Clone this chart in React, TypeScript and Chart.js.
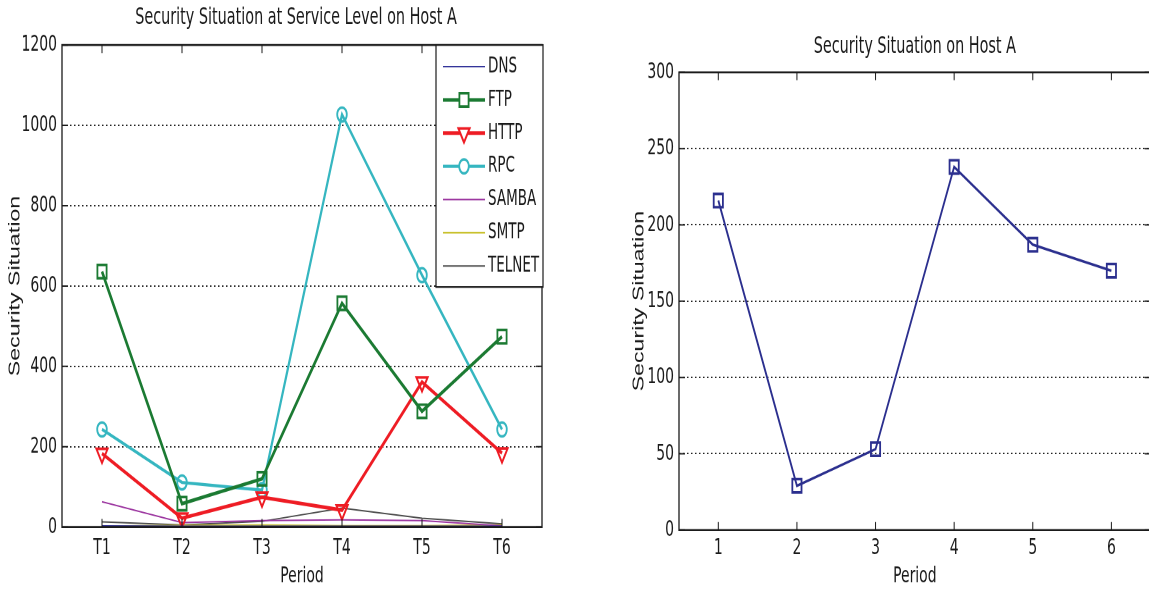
import React, { useEffect, useRef } from 'react';
import { Chart, registerables } from 'chart.js';

Chart.register(...registerables);

// ---------- data ----------
const periodLabels = ['T1', 'T2', 'T3', 'T4', 'T5', 'T6'];
const dnsValues = [3, 2, 2, 2, 2, 2];
const ftpValues = [636, 58, 120, 557, 288, 474];
const httpValues = [183, 22, 74, 42, 361, 184];
const rpcValues = [243, 111, 92, 1027, 627, 243];
const sambaValues = [63, 11, 16, 18, 16, 3];
const smtpValues = [2, 4, 5, 3, 3, 5];
const telnetValues = [13, 5, 14, 47, 22, 8];
const serviceYTicks = [0, 200, 400, 600, 800, 1000, 1200];

const hostLabels = ['1', '2', '3', '4', '5', '6'];
const hostValues = [216, 29, 53, 238, 187, 170];
const hostYTicks = [0, 50, 100, 150, 200, 250, 300];

const leftTitle = 'Security Situation at Service Level on Host A';
const rightTitle = 'Security Situation on Host A';
const yTitle = 'Security Situation';
const xTitle = 'Period';

// ---------- layout helpers ----------
const VH = 408; // virtual canvas height, stretched vertically to 591
const S = 591 / VH;
const NARROW = "'Liberation Sans Narrow', 'DejaVu Sans Condensed', 'Arial Narrow', sans-serif";
const WIDE = "'Liberation Sans', Arial, sans-serif";
const INK = '#1a1a1a';
const RIGHT_W = 569;

function drawMarker(ctx: CanvasRenderingContext2D, style: string, rot: number, x: number, y: number, r: number, color: string, bw: number) {
  ctx.save();
  ctx.strokeStyle = color;
  ctx.fillStyle = '#fff';
  ctx.lineWidth = bw;
  ctx.beginPath();
  if (style === 'rect') {
    const s = r * Math.SQRT1_2;
    ctx.rect(x - s, y - s, 2 * s, 2 * s);
  } else if (style === 'triangle') {
    let a = (rot * Math.PI) / 180;
    for (let k = 0; k < 3; k++) {
      const px = x + Math.sin(a) * r;
      const py = y - Math.cos(a) * r;
      if (k === 0) ctx.moveTo(px, py); else ctx.lineTo(px, py);
      a += (2 * Math.PI) / 3;
    }
    ctx.closePath();
  } else {
    ctx.arc(x, y, r, 0, Math.PI * 2);
  }
  ctx.fill();
  ctx.stroke();
  ctx.restore();
}

function titlePlugin(text: string, yReal: number, xShift = 0) {
  return {
    id: 'topTitle',
    afterDraw(chart: any) {
      const { ctx, chartArea: a } = chart;
      ctx.save();
      ctx.fillStyle = INK;
      ctx.font = `16px ${NARROW}`;
      ctx.textAlign = 'center';
      ctx.textBaseline = 'middle';
      ctx.fillText(text, (a.left + a.right) / 2 + xShift, yReal / S);
      ctx.restore();
    },
  };
}

const frameTicks = {
  id: 'frameTicks',
  afterDatasetsDraw(chart: any) {
    const { ctx, chartArea: a, scales } = chart;
    const xs = scales.x;
    const ys = scales.y;
    ctx.save();
    ctx.strokeStyle = INK;
    ctx.lineWidth = 1.3;
    ctx.beginPath();
    ctx.rect(a.left, a.top, a.right - a.left, a.bottom - a.top);
    ctx.stroke();
    ctx.lineWidth = 1;
    ctx.beginPath();
    const vt = 8 / S;
    xs.ticks.forEach((_: any, i: number) => {
      const px = xs.getPixelForTick(i);
      ctx.moveTo(px, a.bottom);
      ctx.lineTo(px, a.bottom - vt);
      ctx.moveTo(px, a.top);
      ctx.lineTo(px, a.top + vt);
    });
    ys.ticks.forEach((t: any) => {
      const py = ys.getPixelForValue(t.value);
      ctx.moveTo(a.left, py);
      ctx.lineTo(a.left + 6, py);
      ctx.moveTo(a.right, py);
      ctx.lineTo(a.right - 6, py);
    });
    ctx.stroke();
    ctx.restore();
  },
};

const insideLegend = {
  id: 'insideLegend',
  afterDraw(chart: any) {
    const { ctx, chartArea: a } = chart;
    const left = 436;
    const right = a.right + 1;
    const top = a.top;
    const bottom = 287 / S;
    ctx.save();
    ctx.fillStyle = '#fff';
    ctx.fillRect(left, top, right - left, bottom - top);
    ctx.strokeStyle = INK;
    ctx.lineWidth = 1.2;
    ctx.strokeRect(left, top, right - left, bottom - top);
    chart.data.datasets.forEach((ds: any, i: number) => {
      const y = (66.7 + i * 33.2) / S;
      ctx.strokeStyle = ds.borderColor;
      ctx.lineWidth = ds.borderWidth;
      ctx.beginPath();
      ctx.moveTo(443, y);
      ctx.lineTo(485, y);
      ctx.stroke();
      if (ds.pointRadius > 0) {
        drawMarker(ctx, ds.pointStyle, ds.pointRotation || 0, 464, y, ds.pointRadius, ds.borderColor, ds.pointBorderWidth);
      }
      ctx.fillStyle = INK;
      ctx.font = `15px ${NARROW}`;
      ctx.textAlign = 'left';
      ctx.textBaseline = 'middle';
      ctx.fillText(ds.label, 488, y);
    });
    ctx.restore();
  },
};

function lineDs(label: string, data: number[], color: string, width: number, style?: string, radius = 0, rotation = 0) {
  return {
    label,
    data,
    borderColor: color,
    backgroundColor: color,
    borderWidth: width,
    pointStyle: style || 'circle',
    pointRadius: radius,
    pointRotation: rotation,
    pointBorderWidth: 1.8,
    pointBorderColor: color,
    pointBackgroundColor: 'rgba(255,255,255,0)',
    tension: 0,
    fill: false,
  };
}

function axes(yTicks: number[], yWidth: number, yTitleCenter: number, bottomReal: number, labelCenterReal: number) {
  const tickFont = { family: NARROW, size: 15.5 };
  const ymax = yTicks[yTicks.length - 1];
  const bottomV = bottomReal / S;
  const labelPad = labelCenterReal / S - bottomV - 9.3;
  return {
    x: {
      type: 'category' as const,
      offset: true,
      grid: { display: false, drawTicks: false },
      border: { display: false },
      ticks: { color: INK, font: tickFont, padding: labelPad, maxRotation: 0, autoSkip: false },
      title: { display: true, text: xTitle, color: INK, font: tickFont, padding: { top: 0, bottom: 0.7 } },
      afterFit: (s: any) => {
        s.height = VH - bottomV;
      },
    },
    y: {
      min: 0,
      max: ymax,
      afterBuildTicks: (s: any) => { s.ticks = yTicks.map((v) => ({ value: v })); },
      grid: {
        color: (c: any) => (c.tick && (c.tick.value === 0 || c.tick.value === ymax) ? 'rgba(0,0,0,0)' : '#222'),
        lineWidth: 1,
        drawTicks: false,
      },
      border: { display: false, dash: [1.5, 2.5] },
      ticks: { color: INK, font: tickFont, padding: 5, callback: (v: any) => String(v) },
      title: { display: true, text: yTitle, color: INK, font: { family: WIDE, size: 16 }, padding: { top: yTitleCenter - 9.6, bottom: 0 } },
      afterFit: (s: any) => { s.width = yWidth; },
    },
  };
}

export default function App() {
  const leftRef = useRef<HTMLCanvasElement>(null);
  const rightRef = useRef<HTMLCanvasElement>(null);

  useEffect(() => {
    const left = new Chart(leftRef.current as HTMLCanvasElement, {
      type: 'line',
      data: {
        labels: periodLabels,
        datasets: [
          lineDs('DNS', dnsValues, '#34359a', 1),
          lineDs('FTP', ftpValues, '#1b7a32', 2.5, 'rect', 6.5),
          lineDs('HTTP', httpValues, '#ee1c24', 2.5, 'triangle', 6.5, 180),
          lineDs('RPC', rpcValues, '#35b6c0', 2.2, 'circle', 4.8),
          lineDs('SAMBA', sambaValues, '#9a329e', 1),
          lineDs('SMTP', smtpValues, '#c9c12e', 1.2),
          lineDs('TELNET', telnetValues, '#4a4a4a', 1),
        ] as any,
      },
      options: {
        responsive: false,
        animation: false,
        devicePixelRatio: 2,
        events: [],
        layout: { padding: { top: 45 / S, right: 570 - 542, left: 0, bottom: 0 } },
        plugins: { legend: { display: false }, title: { display: false }, tooltip: { enabled: false } },
        scales: axes(serviceYTicks, 62, 15, 527, 548) as any,
      },
      plugins: [frameTicks, insideLegend, titlePlugin(leftTitle, 18, -6)],
    });

    const right = new Chart(rightRef.current as HTMLCanvasElement, {
      type: 'line',
      data: {
        labels: hostLabels,
        datasets: [lineDs('Host A', hostValues, '#2b2f8e', 1.8, 'rect', 6.5)] as any,
      },
      options: {
        responsive: false,
        animation: false,
        devicePixelRatio: 2,
        events: [],
        layout: { padding: { top: 72.3 / S, right: 2, left: 0, bottom: 0 } },
        plugins: { legend: { display: false }, title: { display: false }, tooltip: { enabled: false } },
        scales: axes(hostYTicks, 89, 49, 530, 548) as any,
      },
      plugins: [frameTicks, titlePlugin(rightTitle, 47)],
    });

    return () => {
      left.destroy();
      right.destroy();
    };
  }, []);

  const wrap = (leftPx: number, w: number): React.CSSProperties => ({
    position: 'absolute',
    left: leftPx,
    top: 0,
    width: w,
    height: VH,
    transform: `scaleY(${S})`,
    transformOrigin: '0 0',
  });

  return (
    <div style={{ position: 'absolute', left: 0, top: 0, width: 1149, height: 591, overflow: 'hidden', background: '#fff' }}>
      <div style={wrap(0, 570)}>
        <canvas ref={leftRef} width={570} height={VH} style={{ display: 'block', width: '570px', height: `${VH}px` }} />
      </div>
      <div style={wrap(590, RIGHT_W)}>
        <canvas ref={rightRef} width={RIGHT_W} height={VH} style={{ display: 'block', width: `${RIGHT_W}px`, height: `${VH}px` }} />
      </div>
    </div>
  );
}
